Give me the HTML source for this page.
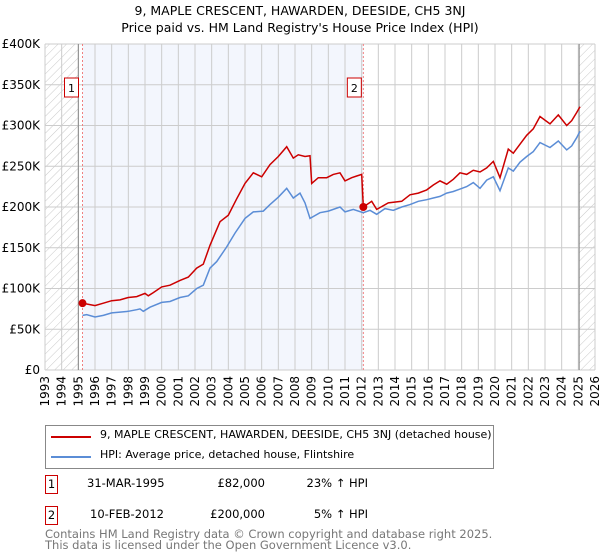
<!DOCTYPE html>
<html><head><meta charset="utf-8"><style>
body{margin:0;background:#fff;font-family:"DejaVu Sans","Liberation Sans",sans-serif;}
#wrap{position:relative;width:600px;height:560px;overflow:hidden}
.t{position:absolute;font-size:12px;color:#000;white-space:nowrap}
</style></head><body><div id="wrap">
<svg id="chart" width="600" height="420" style="position:absolute;left:0;top:0"></svg>
<div class="t" style="left:0;width:600px;text-align:center;top:3px;font-size:12.5px">9, MAPLE CRESCENT, HAWARDEN, DEESIDE, CH5 3NJ</div>
<div class="t" style="left:0;width:600px;text-align:center;top:20px;font-size:12.5px">Price paid vs. HM Land Registry's House Price Index (HPI)</div>
<div style="position:absolute;left:45px;top:425px;width:449px;height:44px;border:1px solid #888;box-sizing:border-box">
 <div style="position:absolute;left:5px;top:10px;width:40px;height:2px;background:#cc0000"></div>
 <div class="t" style="left:54px;top:2px;font-size:11px">9, MAPLE CRESCENT, HAWARDEN, DEESIDE, CH5 3NJ (detached house)</div>
 <div style="position:absolute;left:5px;top:30px;width:40px;height:2px;background:#5b8dd6"></div>
 <div class="t" style="left:54px;top:22px;font-size:11px">HPI: Average price, detached house, Flintshire</div>
</div>
<div style="position:absolute;left:45px;top:475px;width:13px;height:19px;border:1px solid #cc0000;box-sizing:border-box;font-size:11.5px;text-align:center;line-height:17px">1</div>
<div class="t" style="left:87px;top:476px;font-size:11.5px">31-MAR-1995</div>
<div class="t" style="left:185px;width:80px;text-align:right;top:476px;font-size:11.5px">£82,000</div>
<div class="t" style="left:290px;width:78px;text-align:right;top:476px;font-size:11.5px">23% ↑ HPI</div>
<div style="position:absolute;left:45px;top:506px;width:13px;height:19px;border:1px solid #cc0000;box-sizing:border-box;font-size:11.5px;text-align:center;line-height:17px">2</div>
<div class="t" style="left:90px;top:507px;font-size:11.5px">10-FEB-2012</div>
<div class="t" style="left:185px;width:80px;text-align:right;top:507px;font-size:11.5px">£200,000</div>
<div class="t" style="left:290px;width:78px;text-align:right;top:507px;font-size:11.5px">5% ↑ HPI</div>
<div class="t" style="left:45px;top:529px;font-size:11.5px;color:#777;line-height:11px">Contains HM Land Registry data © Crown copyright and database right 2025.<br>This data is licensed under the Open Government Licence v3.0.</div>
</div>
<script>
const years=[1993,1994,1995,1996,1997,1998,1999,2000,2001,2002,2003,2004,2005,2006,2007,2008,2009,2010,2011,2012,2013,2014,2015,2016,2017,2018,2019,2020,2021,2022,2023,2024,2025,2026];
const yTicks=[0,50,100,150,200,250,300,350,400];
const yTickLabels=["£0","£50K","£100K","£150K","£200K","£250K","£300K","£350K","£400K"];
const hpiT=[1995.25,1995.5,1996,1996.5,1997,1997.5,1998,1998.5,1998.7,1998.9,1999.3,2000,2000.5,2001.1,2001.6,2002.1,2002.5,2002.9,2003.3,2003.9,2004.4,2005,2005.5,2006.1,2006.5,2007,2007.5,2007.9,2008.3,2008.6,2008.9,2009.5,2010,2010.7,2011,2011.5,2012.1,2012.5,2012.9,2013.4,2013.9,2014.4,2014.9,2015.4,2015.9,2016.3,2016.7,2017.1,2017.5,2017.9,2018.3,2018.7,2019.1,2019.5,2019.9,2020.3,2020.8,2021.1,2021.5,2021.9,2022.3,2022.7,2023.3,2023.8,2024.3,2024.6,2024.9,2025.1];
const hpiV=[67,68,65,67,70,71,72,74,75,72,77,83,84,89,91,100,104,125,133,151,168,186,194,195,203,212,223,211,217,205,186,193,195,200,194,197,193,196,191,198,196,200,203,207,209,211,213,217,219,222,225,230,223,233,237,220,248,244,255,262,268,279,273,281,270,275,285,293];
const redT=[1995.25,1995.5,1996,1996.5,1997,1997.5,1998,1998.5,1999,1999.2,1999.5,2000,2000.5,2001.1,2001.6,2002.1,2002.5,2002.9,2003.5,2004,2004.5,2005,2005.5,2006,2006.5,2007,2007.5,2007.9,2008.2,2008.6,2008.9,2009.0,2009.4,2009.9,2010.3,2010.7,2011,2011.4,2011.7,2012.0,2012.1,2012.6,2012.9,2013.6,2014.4,2014.9,2015.4,2015.9,2016.3,2016.7,2017.1,2017.5,2017.9,2018.3,2018.7,2019.1,2019.5,2019.9,2020.3,2020.8,2021.1,2021.5,2021.9,2022.3,2022.7,2023.3,2023.8,2024.3,2024.6,2024.9,2025.1];
const redV=[82,81,79,82,85,86,89,90,94,91,95,102,104,110,114,125,130,153,182,190,210,229,242,237,252,262,274,260,264,262,263,229,236,236,240,242,232,236,238,240,200,207,197,205,207,215,217,221,227,232,228,234,242,240,245,243,248,256,236,271,266,277,288,296,311,302,313,300,306,316,323];
const sales=[{t:1995.25,v:82,n:"1"},{t:2012.1,v:200,n:"2"}];
const svg=document.getElementById('chart');const NS="http://www.w3.org/2000/svg";
const X0=45,X1=595,Y0=370,Y1=44;
const xs=t=>X0+(t-1993)/(2026-1993)*(X1-X0);
const ys=v=>Y0-(v/400)*(Y0-Y1);
function mk(tag,at,name){const e=document.createElementNS(NS,tag);for(const k in at)e.setAttribute(k,at[k]);


svg.appendChild(e);return e;}
const defs=document.createElementNS(NS,'defs');defs.innerHTML='<pattern id="h" width="6" height="6" patternUnits="userSpaceOnUse" patternTransform="rotate(45)"><line x1="0" y1="0" x2="0" y2="6" stroke="#bbb" stroke-width="0.8"/></pattern>';svg.appendChild(defs);
mk('rect',{x:X0,y:Y1,width:X1-X0,height:Y0-Y1,fill:'#fff'},'plot-area');
mk('rect',{x:xs(1995.25),y:Y1,width:xs(2012.1)-xs(1995.25),height:Y0-Y1,fill:'#f3f6fd'},'ownership-shade');
mk('rect',{x:X0,y:Y1,width:xs(1995)-X0,height:Y0-Y1,fill:'url(#h)'},'hatch-left');
mk('rect',{x:xs(2025.05),y:Y1,width:X1-xs(2025.05),height:Y0-Y1,fill:'url(#h)'},'hatch-right');
years.forEach(y=>{mk('line',{x1:xs(y),x2:xs(y),y1:Y1,y2:Y0,stroke:'#ccc','stroke-width':1},'x-grid-'+y);
 const tx=mk('text',{x:0,y:0,transform:`translate(${xs(y)+4},${Y0+6}) rotate(-90)`,'text-anchor':'end','font-size':12,fill:'#000','font-family':'DejaVu Sans, Liberation Sans, sans-serif'},'x-tick-'+y);tx.textContent=y;});
yTicks.forEach((v,i)=>{mk('line',{x1:X0,x2:X1,y1:ys(v),y2:ys(v),stroke:'#ccc','stroke-width':1},'y-grid-'+v);
 const tx=mk('text',{x:40,y:ys(v)+4,'text-anchor':'end','font-size':12,fill:'#000','font-family':'DejaVu Sans, Liberation Sans, sans-serif'},'y-tick-'+v);tx.textContent=yTickLabels[i];});
mk('line',{x1:xs(1995),x2:xs(1995),y1:Y1,y2:Y0,stroke:'#888','stroke-width':1},'data-start-line');
mk('line',{x1:xs(2025.05),x2:xs(2025.05),y1:Y1,y2:Y0,stroke:'#888','stroke-width':1},'data-end-line');
sales.forEach(s=>mk('line',{x1:xs(s.t),x2:xs(s.t),y1:Y1,y2:Y0,stroke:'#f08080','stroke-width':1,'stroke-dasharray':'2,2'},'sale-line-'+s.n));
const pts=(T,V)=>T.map((t,i)=>xs(t).toFixed(1)+','+ys(V[i]).toFixed(1)).join(' ');
mk('polyline',{points:pts(hpiT,hpiV),fill:'none',stroke:'#5b8dd6','stroke-width':1.5},'hpi-line');
mk('polyline',{points:pts(redT,redV),fill:'none',stroke:'#cc0000','stroke-width':1.5},'property-line');
sales.forEach(s=>{mk('circle',{cx:xs(s.t),cy:ys(s.v),r:4,fill:'#cc0000'},'sale-point-'+s.n);
 const bx=xs(s.t)-(s.n=="1"?11:9);
 mk('rect',{x:bx-7,y:78,width:14,height:19,fill:'#fff',stroke:'#cc0000'},'sale-label-box-'+s.n);
 const tx=mk('text',{x:bx,y:92,'text-anchor':'middle','font-size':11,fill:'#000','font-family':'DejaVu Sans, sans-serif'},'sale-label-'+s.n);tx.textContent=s.n;});
</script></body></html>
